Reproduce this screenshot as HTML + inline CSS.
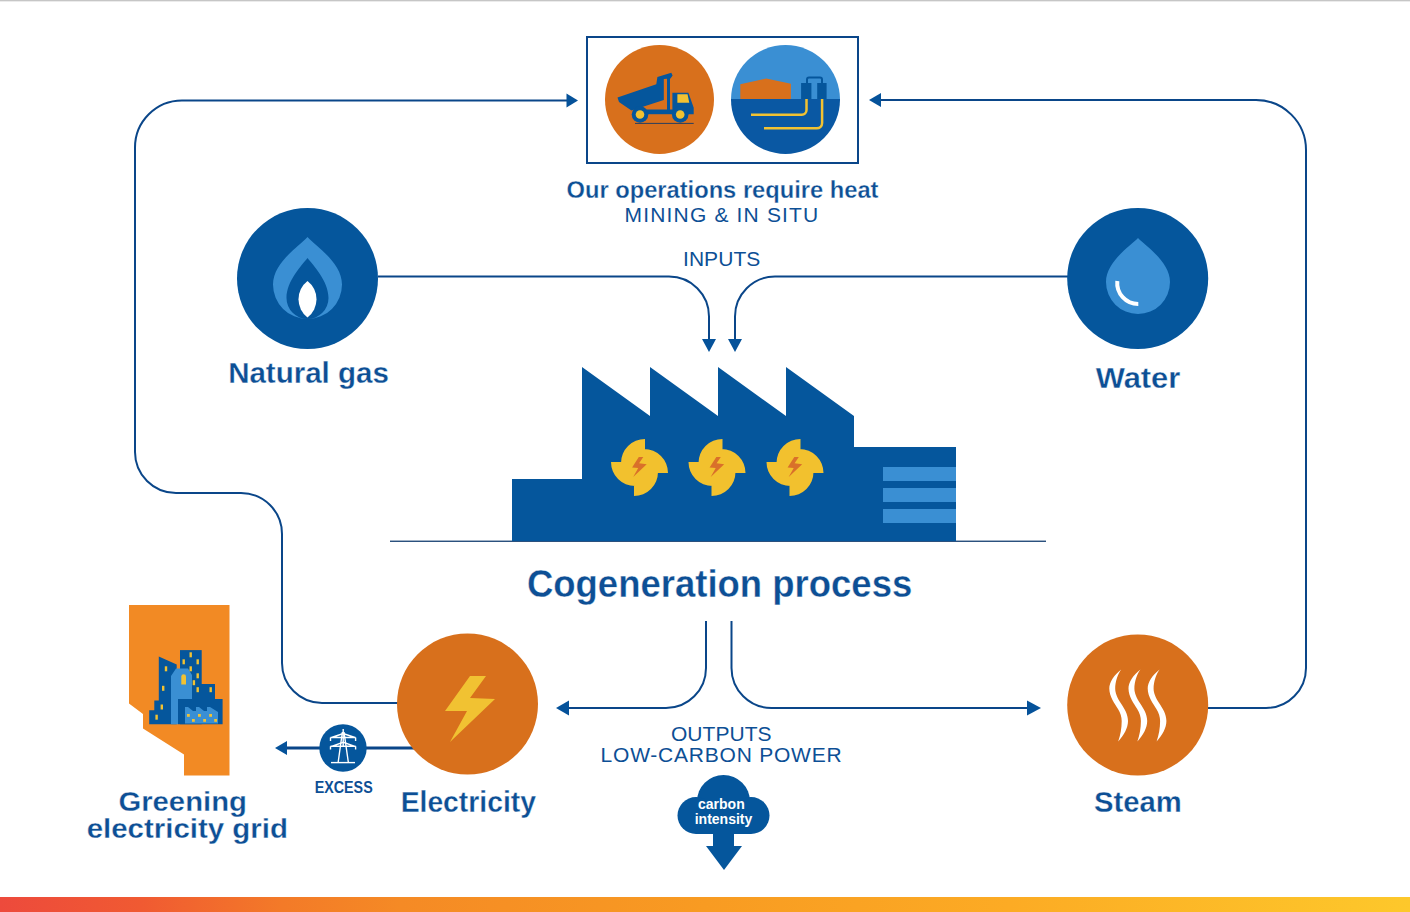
<!DOCTYPE html>
<html><head><meta charset="utf-8">
<style>
html,body{margin:0;padding:0;background:#fff;}
body{width:1410px;height:912px;overflow:hidden;position:relative;}
svg{position:absolute;left:0;top:0;display:block;}
text{font-family:"Liberation Sans",sans-serif;fill:#0d4f95;}
.b{font-weight:bold;stroke:#fff;stroke-width:0.3px;}
</style></head><body>
<svg width="1410" height="912" viewBox="0 0 1410 912">
<defs>
<linearGradient id="bar" x1="0" y1="0" x2="1410" y2="0" gradientUnits="userSpaceOnUse">
<stop offset="0" stop-color="#ed4a3c"/>
<stop offset="0.1" stop-color="#f05a32"/>
<stop offset="0.2" stop-color="#f37a28"/>
<stop offset="0.284" stop-color="#f58a25"/>
<stop offset="0.5" stop-color="#f89b22"/>
<stop offset="0.716" stop-color="#fcab24"/>
<stop offset="1" stop-color="#fdc82b"/>
</linearGradient>
<clipPath id="situClip"><circle cx="785.5" cy="99.5" r="54.5"/></clipPath>
</defs>
<!-- top gray line -->
<rect x="0" y="0" width="1410" height="1" fill="#c6c6c6"/><rect x="0" y="1" width="1410" height="1" fill="#ebebeb"/>
<!-- bottom bar -->
<rect x="0" y="897" width="1410" height="15" fill="url(#bar)"/>

<g fill="none" stroke="#0a4689" stroke-width="2">
<!-- left loop -->
<path d="M570 100.5H182A47 47 0 0 0 135 147.5V452A41 41 0 0 0 176 493H241A41 41 0 0 1 282 534V663A40 40 0 0 0 322 703H400"/>
<!-- right loop -->
<path d="M880 100H1256A50 50 0 0 1 1306 150V668A40 40 0 0 1 1266 708H1206"/>
<!-- inputs -->
<path d="M378 276.5H669A40 40 0 0 1 709 316.5V341"/>
<path d="M1068 276.5H775A40 40 0 0 0 735 316.5V341"/>
<!-- outputs -->
<path d="M706 621V668A40 40 0 0 1 666 708H566"/>
<path d="M731.5 621V668A40 40 0 0 0 771.5 708H1030"/>
<!-- box -->
<rect x="587" y="37" width="271" height="126"/>
</g>
<!-- ground line -->
<rect x="390" y="540.6" width="656" height="1.3" fill="#153f70"/>
<!-- excess line -->
<rect x="286" y="746.5" width="130" height="3" fill="#0a4689"/>

<g fill="#05529a">
<polygon points="578,100.5 566.5,93.5 566.5,107.5"/>
<polygon points="869,100 881,93 881,107"/>
<polygon points="702,339 716,339 709,352"/>
<polygon points="728,339 742,339 735,352"/>
<polygon points="556,708 569,700.5 569,715.5"/>
<polygon points="1041,708 1027,700.5 1027,715.5"/>
<polygon points="275,748 287,741 287,755"/>
</g>

<!-- top circles -->
<circle cx="659.5" cy="99.5" r="54.5" fill="#d8701c"/>
<g fill="#05569c">
<path d="M617.5 97.5L656.3 84.2L657.4 77.1L671.3 72.8L672.6 75.6L670.5 78.6L663.8 79L663.8 100L631.4 110.6L619 102Z"/>
<rect x="667" y="78" width="3" height="32"/>
<rect x="638" y="109.5" width="36" height="4.7"/>
<polygon points="672.4,92.8 688.4,92.8 693.7,107.8 693.7,114.2 672.4,114.2"/>
<circle cx="640" cy="114.5" r="8.3"/>
<circle cx="680.2" cy="114.5" r="8.3"/>
</g>
<g fill="#f2c232">
<polygon points="677.4,94.2 687.5,94.2 689.3,102.8 677.4,102.8"/>
<circle cx="640" cy="114.5" r="4.3"/>
<circle cx="680.2" cy="114.5" r="4.3"/>
</g>
<rect x="635" y="122.9" width="58.7" height="1" fill="#2b3f5e"/>
<g clip-path="url(#situClip)">
<rect x="730" y="44" width="112" height="56" fill="#3a8fd3"/>
<rect x="730" y="99" width="112" height="57" fill="#0a58a3"/>
<polygon points="740.3,99 740.3,84.3 766.2,78.5 790.9,83.8 790.9,99" fill="#d8701c"/>
<rect x="801.1" y="83" width="10.3" height="16" fill="#05569c"/>
<rect x="817.2" y="83" width="9.4" height="16" fill="#05569c"/>
<path d="M807 84V79.5Q807 77.5 809 77.5H820Q822 77.5 822 79.5V84" fill="none" stroke="#05569c" stroke-width="2"/>
<path d="M806.5 99V110A4.7 4.7 0 0 1 801.8 114.7H751" fill="none" stroke="#f2c232" stroke-width="2.5"/>
<path d="M822.1 99V123A5.3 5.3 0 0 1 816.8 128.3H764" fill="none" stroke="#f2c232" stroke-width="2.5"/>
</g>

<!-- natural gas -->
<circle cx="307.5" cy="278.5" r="70.5" fill="#05569c"/>
<path d="M307.5 237C317 247 342 263 342 284.5A34.5 34.5 0 0 1 273 284.5C273 263 298 247 307.5 237Z" fill="#3a8fd3"/>
<path d="M307.5 258C313 265 328.5 281 328.5 298A21 21 0 0 1 286.5 298C286.5 281 302 265 307.5 258Z" fill="#05569c"/>
<path d="M307.5 281A23 23 0 0 1 307.5 317.5A23 23 0 0 1 307.5 281Z" fill="#fff"/>

<!-- water -->
<circle cx="1137.7" cy="278.5" r="70.5" fill="#05569c"/>
<path d="M1138 238C1146 246 1170 262 1170 282A32 32 0 0 1 1106 282C1106 262 1130 246 1138 238Z" fill="#3a8fd3"/>
<path d="M1117.3 281A21 21 0 0 0 1138.3 304" fill="none" stroke="#fff" stroke-width="4"/>

<!-- factory -->
<polygon points="512,479 582,479 582,367 650,416 650,367 718,416 718,367 786,416 786,367 854,416 854,447 956,447 956,541 512,541" fill="#05569c"/>
<g transform="translate(639.5 467.5)"><path fill="#f2c12e" d="M5.5 -4.5V-28.5A24 24 0 0 0 -18.5 -4.5Z M4.5 5.5H28.5A24 24 0 0 0 4.5 -18.5Z M-5.5 4.5V28.5A24 24 0 0 0 18.5 4.5Z M-4.5 -5.5H-28.5A24 24 0 0 0 -4.5 18.5Z"/><rect x="-7" y="-7" width="14" height="14" fill="#f2c12e"/><polygon fill="#d9702a" points="-0.7,-10.6 3.8,-10.6 -0.4,-4.3 7.2,-3.3 -6.3,9.5 -1.3,0.6 -7.4,0"/></g>
<g transform="translate(717 467.5)"><path fill="#f2c12e" d="M5.5 -4.5V-28.5A24 24 0 0 0 -18.5 -4.5Z M4.5 5.5H28.5A24 24 0 0 0 4.5 -18.5Z M-5.5 4.5V28.5A24 24 0 0 0 18.5 4.5Z M-4.5 -5.5H-28.5A24 24 0 0 0 -4.5 18.5Z"/><rect x="-7" y="-7" width="14" height="14" fill="#f2c12e"/><polygon fill="#d9702a" points="-0.7,-10.6 3.8,-10.6 -0.4,-4.3 7.2,-3.3 -6.3,9.5 -1.3,0.6 -7.4,0"/></g>
<g transform="translate(795 467.5)"><path fill="#f2c12e" d="M5.5 -4.5V-28.5A24 24 0 0 0 -18.5 -4.5Z M4.5 5.5H28.5A24 24 0 0 0 4.5 -18.5Z M-5.5 4.5V28.5A24 24 0 0 0 18.5 4.5Z M-4.5 -5.5H-28.5A24 24 0 0 0 -4.5 18.5Z"/><rect x="-7" y="-7" width="14" height="14" fill="#f2c12e"/><polygon fill="#d9702a" points="-0.7,-10.6 3.8,-10.6 -0.4,-4.3 7.2,-3.3 -6.3,9.5 -1.3,0.6 -7.4,0"/></g>
<g fill="#3a8fd3">
<rect x="883" y="467" width="73" height="14"/>
<rect x="883" y="488" width="73" height="14"/>
<rect x="883" y="509" width="73" height="14"/>
</g>

<!-- electricity & steam -->
<circle cx="467.5" cy="704" r="70.5" fill="#d8701c"/>
<circle cx="1137.7" cy="705" r="70.5" fill="#d8701c"/>
<path transform="translate(1095 660)" fill="#fff" d="M26.2 9.4C19 15 14.3 22 14.3 28.6C14.3 37 20 44 23 49C25.5 53 26.7 57 26.7 61C26.7 68 25.5 75 23.2 81.4C29 75 33 68 33 61C33 54 29 48 26 43.5C22 37.5 20.2 33 20.2 28.6C20.2 21 23 14 26.2 9.4Z"/>
<path transform="translate(1114.2 660)" fill="#fff" d="M26.2 9.4C19 15 14.3 22 14.3 28.6C14.3 37 20 44 23 49C25.5 53 26.7 57 26.7 61C26.7 68 25.5 75 23.2 81.4C29 75 33 68 33 61C33 54 29 48 26 43.5C22 37.5 20.2 33 20.2 28.6C20.2 21 23 14 26.2 9.4Z"/>
<path transform="translate(1133.4 660)" fill="#fff" d="M26.2 9.4C19 15 14.3 22 14.3 28.6C14.3 37 20 44 23 49C25.5 53 26.7 57 26.7 61C26.7 68 25.5 75 23.2 81.4C29 75 33 68 33 61C33 54 29 48 26 43.5C22 37.5 20.2 33 20.2 28.6C20.2 21 23 14 26.2 9.4Z"/>
<polygon points="470,676 486,676 470,698 495,699 450,742 467,711 445,711" fill="#f1c232"/>

<!-- excess tower -->
<circle cx="343" cy="748" r="23.7" fill="#05569c"/>
<g fill="none" stroke="#fff" stroke-width="1.4">
<path d="M343.2 729V747"/>
<path d="M342.4 732L338.2 762M344 732L348.3 762"/>
<path d="M331 762.6H355"/>
<path d="M330.5 737.5H355.6M330.5 737.5V741M355.6 737.5V741M331.5 737.5L343.2 733.5L355 737.5"/>
<path d="M330.5 746.3H355.6M330.5 746.3V749.6M355.6 746.3V749.6M331.5 746.3L343.2 742.3L355 746.3"/>
</g>

<!-- cloud -->
<g fill="#05569c">
<circle cx="723.5" cy="801.5" r="26.5"/>
<circle cx="696" cy="815.5" r="18.5"/>
<circle cx="751" cy="815.5" r="18.5"/>
<rect x="696" y="808" width="55" height="26"/>
<rect x="713" y="833" width="21" height="14"/>
<polygon points="706,846 742,846 724,870"/>
</g>

<!-- alberta -->
<polygon points="129,605 229.5,605 229.5,775.5 184,775.5 184,754.5 143,728.5 143,714 129,703.5" fill="#f28a24"/>
<g fill="#05569c">
<polygon points="149.2,724.2 149.2,710.2 154.3,710.2 154.3,700.5 158.8,700.5 158.8,656.6 176.7,664.6 176.7,724.2"/>
<rect x="180" y="650.1" width="21.7" height="74.1"/>
<polygon points="201,684 215,684 215,699 222.6,699 222.6,724.2 178,724.2 178,699 201,699"/>
</g>
<polygon fill="#3a8fd3" points="171,724.2 171,676 176,668.5 188,668.5 192,675 192,699 178,699 178,724.2"/>
<polygon fill="#3a8fd3" points="185,723.5 185,707 188,707 193,711 196,711 196,707 199,707 204,711 207,711 207,707 210,707 218,712 218,723.5"/>
<g fill="#f2c232">
<rect x="189.5" y="652.3" width="2.4" height="5"/>
<rect x="182.5" y="659.3" width="2.4" height="5"/>
<rect x="196.5" y="659.3" width="2.4" height="5"/>
<rect x="189.5" y="666.3" width="2.4" height="5"/>
<rect x="196.5" y="673.3" width="2.4" height="5"/>
<rect x="192.7" y="680.2" width="2.4" height="5"/>
<rect x="196.5" y="687.2" width="2.4" height="5"/>
<rect x="209.5" y="687.2" width="2.4" height="5"/>
<rect x="164.8" y="666.3" width="2.4" height="5"/>
<rect x="162" y="685.8" width="2.4" height="5"/>
<rect x="160.6" y="704.5" width="2.4" height="5"/>
<rect x="155.4" y="714.7" width="2.4" height="5"/>
<path d="M181.3 684.6V676.5A2.35 2.35 0 0 1 186 676.5V684.6Z"/>
<rect x="187" y="714" width="2.8" height="2.8"/>
<rect x="198" y="714" width="2.8" height="2.8"/>
<rect x="209.2" y="714" width="2.8" height="2.8"/>
<rect x="192" y="719" width="2.8" height="2.8"/>
<rect x="203.2" y="719" width="2.8" height="2.8"/>
<rect x="214.2" y="719" width="2.8" height="2.8"/>
</g>

<!-- TEXT -->
<text class="b" x="722.5" y="197.7" font-size="23.7" text-anchor="middle">Our operations require heat</text>
<text x="722" y="222" font-size="21" text-anchor="middle" letter-spacing="1.17">MINING &amp; IN SITU</text>
<text x="721.7" y="265.5" font-size="21" text-anchor="middle" letter-spacing="0.06">INPUTS</text>
<text class="b" x="308.5" y="383" font-size="29.6" text-anchor="middle" textLength="160.7" lengthAdjust="spacingAndGlyphs">Natural gas</text>
<text class="b" x="1138" y="387.8" font-size="29.6" text-anchor="middle" textLength="84.6" lengthAdjust="spacingAndGlyphs">Water</text>
<text class="b" x="719.6" y="596.7" font-size="38" text-anchor="middle" textLength="385.3" lengthAdjust="spacingAndGlyphs">Cogeneration process</text>
<text x="721.3" y="740.8" font-size="21" text-anchor="middle" letter-spacing="0.05">OUTPUTS</text>
<text x="721.5" y="761.6" font-size="21" text-anchor="middle" letter-spacing="0.77">LOW-CARBON POWER</text>
<text x="343.7" y="792.6" font-size="15.8" font-weight="bold" text-anchor="middle" textLength="57.9" lengthAdjust="spacingAndGlyphs">EXCESS</text>
<text class="b" x="468.3" y="811.8" font-size="29.6" text-anchor="middle" textLength="135.3" lengthAdjust="spacingAndGlyphs">Electricity</text>
<text class="b" x="1137.9" y="811.9" font-size="29.6" text-anchor="middle" textLength="87.7" lengthAdjust="spacingAndGlyphs">Steam</text>
<text class="b" x="182.7" y="811.2" font-size="27.6" text-anchor="middle" textLength="128.5" lengthAdjust="spacingAndGlyphs">Greening</text>
<text class="b" x="187.3" y="837.7" font-size="27.6" text-anchor="middle" textLength="201.3" lengthAdjust="spacingAndGlyphs">electricity grid</text>
<text class="b" x="721.4" y="808.6" font-size="14" text-anchor="middle" style="fill:#fff;stroke:none">carbon</text>
<text class="b" x="723.5" y="823.6" font-size="14" text-anchor="middle" style="fill:#fff;stroke:none">intensity</text>
</svg>
</body></html>
